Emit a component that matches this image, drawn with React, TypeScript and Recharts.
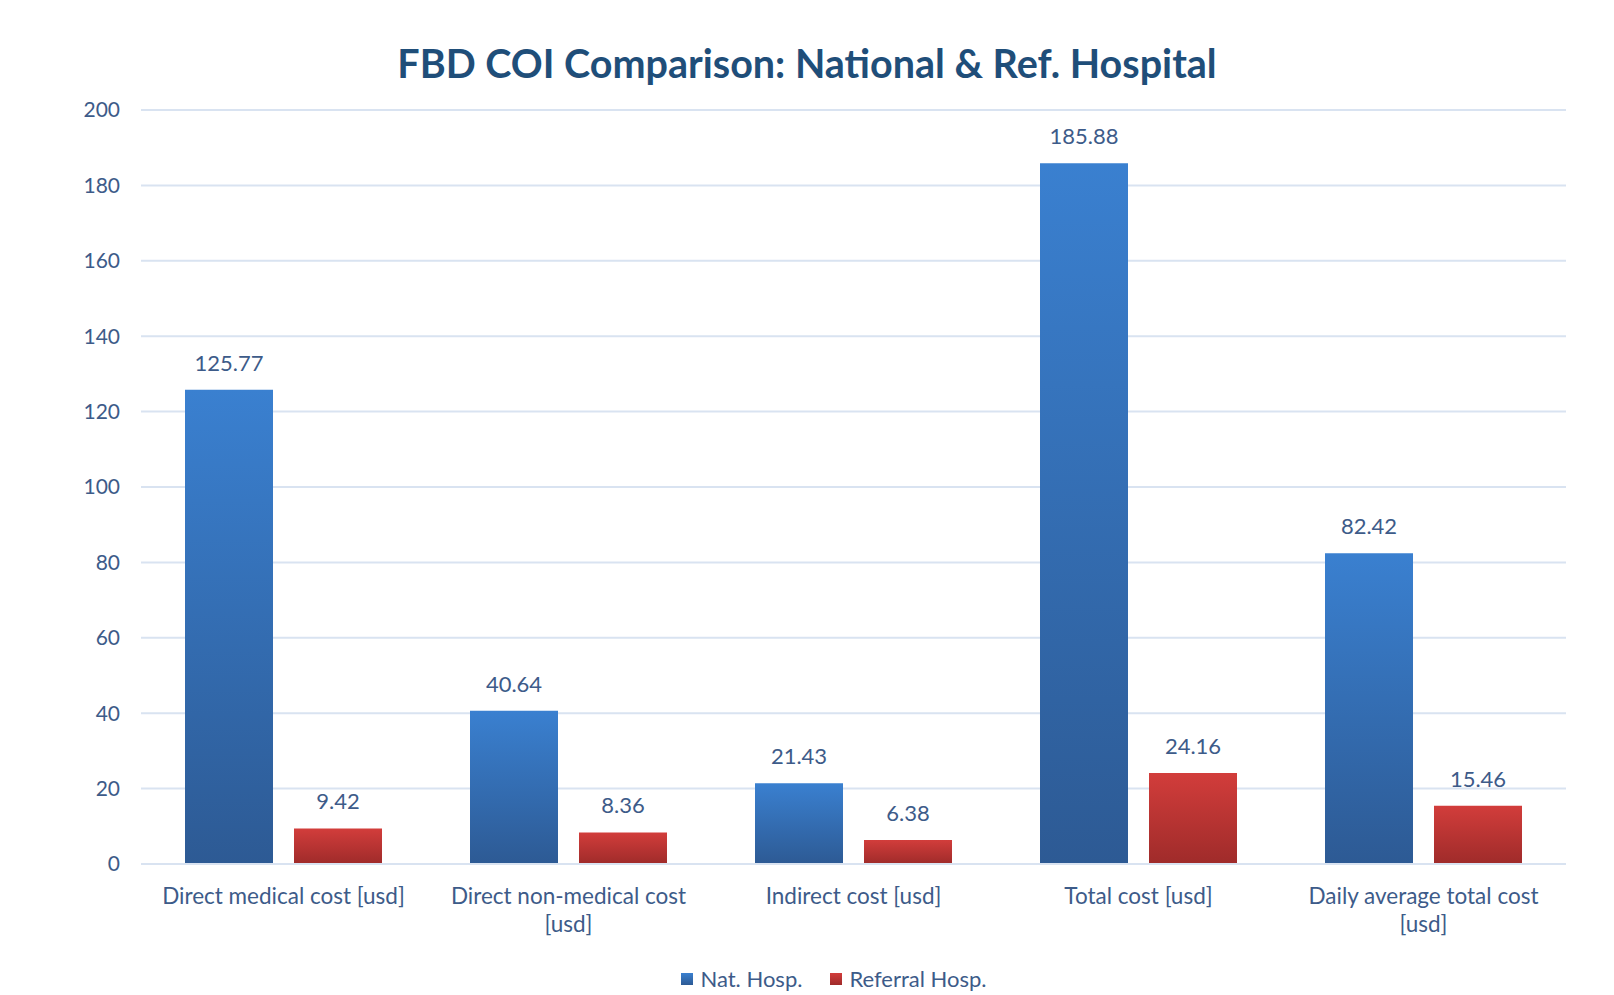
import React from "react";
import { BarChart, Bar, XAxis, YAxis, CartesianGrid, LabelList } from "recharts";

const categories = [
  "Direct medical cost [usd]",
  "Direct non-medical cost [usd]",
  "Indirect cost [usd]",
  "Total cost [usd]",
  "Daily average total cost [usd]",
];
const natHosp = [125.77, 40.64, 21.43, 185.88, 82.42];
const referralHosp = [9.42, 8.36, 6.38, 24.16, 15.46];
const yTicks = [0, 20, 40, 60, 80, 100, 120, 140, 160, 180, 200];

const data = categories.map((name, i) => ({
  name,
  natHosp: natHosp[i],
  referralHosp: referralHosp[i],
}));

const FONT = "Lato, 'Open Sans', sans-serif";
const TEXT = "#3d5b89";
const GRID = "#d9e3f1";

// long labels drop the unit onto a second line, like the original
function splitLabel(label: string): string[] {
  if (label.length > 26) {
    const i = label.lastIndexOf(" ");
    return [label.slice(0, i), label.slice(i + 1)];
  }
  return [label];
}

const CategoryTick = (props: any) => {
  const { x, y, payload } = props;
  const lines = splitLabel(String(payload.value));
  return (
    <text x={x} y={y} textAnchor="middle" fill={TEXT} fontSize={22.5} fontFamily={FONT}>
      {lines.map((line, i) => (
        <tspan key={i} x={x} dy={i === 0 ? "0.71em" : 28}>
          {line}
        </tspan>
      ))}
    </text>
  );
};

const LegendItem = ({ label, grad }: { label: string; grad: string }) => (
  <span style={{ display: "inline-flex", alignItems: "center", marginRight: 28 }}>
    <span style={{ width: 12, height: 12, background: grad, marginRight: 7, display: "inline-block" }} />
    <span>{label}</span>
  </span>
);

export default function App() {
  return (
    <div style={{ position: "absolute", left: 0, top: 0, width: 1614, height: 995, background: "#fff", fontFamily: FONT }}>
      <div
        style={{
          position: "absolute",
          top: 38,
          left: 0,
          width: 1614,
          textAlign: "center",
          fontSize: 39.5,
          fontWeight: 700,
          color: "#1f4e79",
          lineHeight: "50px",
        }}
      >
        FBD COI Comparison: National &amp; Ref. Hospital
      </div>
      <BarChart
        width={1614}
        height={995}
        data={data}
        margin={{ top: 110, right: 48, bottom: 0, left: 0 }}
        barGap={21}
        barCategoryGap={44}
      >
        <defs>
          <linearGradient id="gradNat" x1="0" y1="0" x2="0" y2="1">
            <stop offset="0%" stopColor="#3a80d0" />
            <stop offset="100%" stopColor="#2d5a94" />
          </linearGradient>
          <linearGradient id="gradRef" x1="0" y1="0" x2="0" y2="1">
            <stop offset="0%" stopColor="#d23d3b" />
            <stop offset="100%" stopColor="#9f2b2a" />
          </linearGradient>
        </defs>
        <CartesianGrid vertical={false} stroke={GRID} strokeWidth={2} />
        <XAxis
          dataKey="name"
          height={131}
          interval={0}
          tickLine={false}
          tickSize={0}
          tickMargin={24}
          axisLine={{ stroke: GRID, strokeWidth: 2 }}
          tick={<CategoryTick />}
        />
        <YAxis
          width={141}
          domain={[0, 200]}
          ticks={yTicks}
          tickLine={false}
          axisLine={false}
          tickSize={0}
          tickMargin={21}
          tick={{ fill: TEXT, fontSize: 21, fontFamily: FONT }}
        />
        <Bar dataKey="natHosp" fill="url(#gradNat)" barSize={88} isAnimationActive={false}>
          <LabelList dataKey="natHosp" position="top" offset={19} fill={TEXT} fontSize={22} fontFamily={FONT} />
        </Bar>
        <Bar dataKey="referralHosp" fill="url(#gradRef)" barSize={88} isAnimationActive={false}>
          <LabelList dataKey="referralHosp" position="top" offset={19} fill={TEXT} fontSize={22} fontFamily={FONT} />
        </Bar>
      </BarChart>
      <div
        style={{
          position: "absolute",
          top: 965,
          left: 0,
          width: 1614,
          display: "flex",
          justifyContent: "center",
          fontSize: 22,
          color: TEXT,
          lineHeight: "28px",
          paddingLeft: 82,
          boxSizing: "border-box",
        }}
      >
        <LegendItem label="Nat. Hosp." grad="linear-gradient(#3a80d0, #2d5a94)" />
        <LegendItem label="Referral Hosp." grad="linear-gradient(#d23d3b, #9f2b2a)" />
      </div>
    </div>
  );
}
